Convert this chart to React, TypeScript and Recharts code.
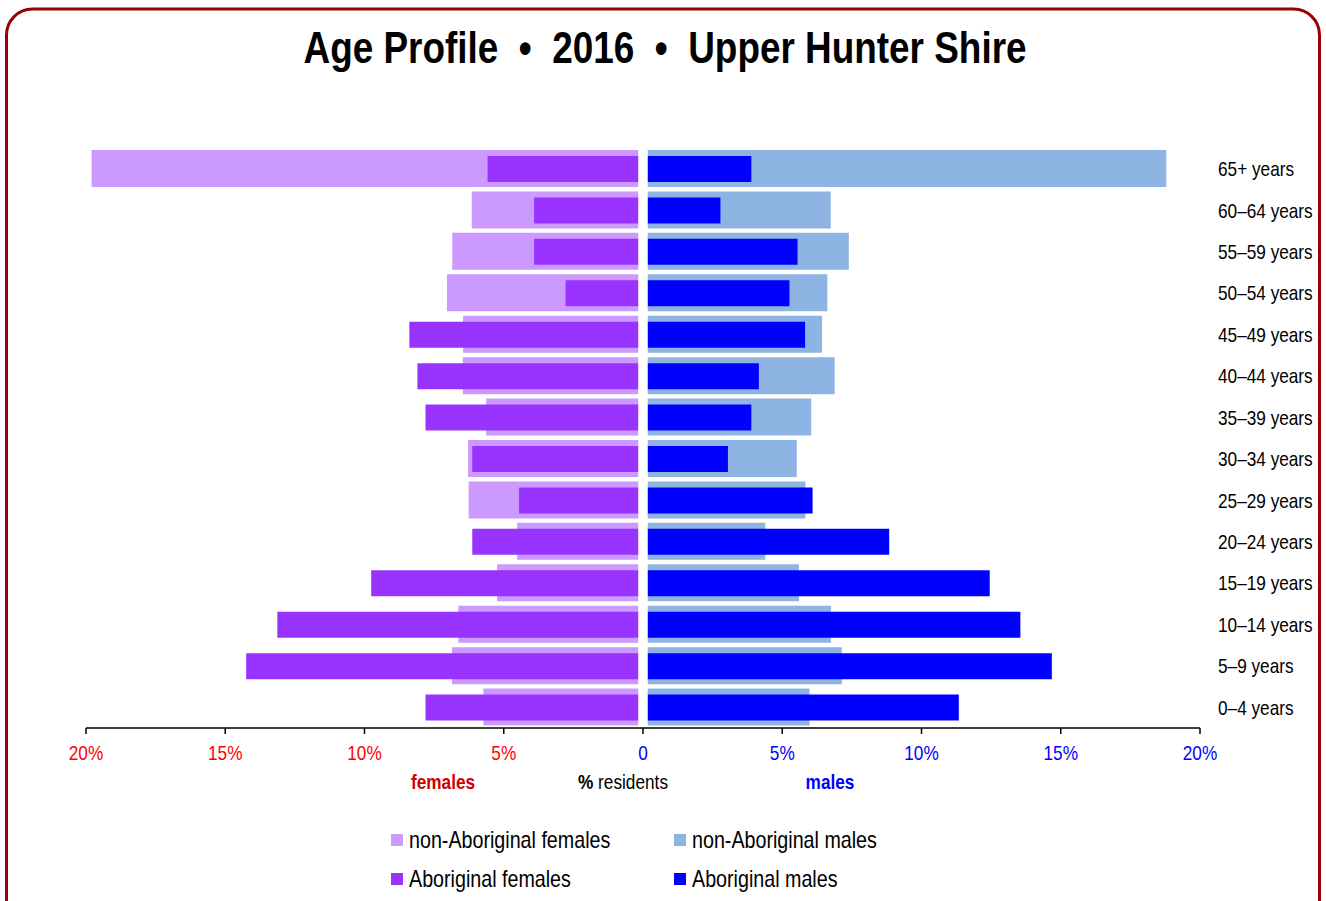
import React from 'react';
import { BarChart, Bar, XAxis, YAxis, ReferenceLine } from 'recharts';

const ages = ['65+ years', '60–64 years', '55–59 years', '50–54 years', '45–49 years', '40–44 years', '35–39 years', '30–34 years', '25–29 years', '20–24 years', '15–19 years', '10–14 years', '5–9 years', '0–4 years'];
const nonAbFemales = [19.8, 6.15, 6.85, 7.04, 6.46, 6.47, 5.63, 6.28, 6.26, 4.52, 5.24, 6.63, 6.86, 5.73];
const abFemales = [5.58, 3.91, 3.91, 2.78, 8.39, 8.1, 7.81, 6.13, 4.45, 6.13, 9.76, 13.13, 14.25, 7.81];
const nonAbMales = [18.79, 6.74, 7.39, 6.62, 6.43, 6.88, 6.04, 5.52, 5.83, 4.39, 5.6, 6.75, 7.14, 5.98];
const abMales = [3.89, 2.78, 5.55, 5.26, 5.82, 4.16, 3.89, 3.05, 6.09, 8.84, 12.45, 13.55, 14.68, 11.34];
const xTicks = [-20, -15, -10, -5, 0, 5, 10, 15, 20];

const data = ages.map((age, i) => ({
  age,
  nonF: -nonAbFemales[i],
  nonM: nonAbMales[i],
  abF: -abFemales[i],
  abM: abMales[i],
}));

// no Arial Narrow here, so squeeze Liberation Sans horizontally
const FONT = "'Liberation Sans', Arial, sans-serif";
const SQ = 0.82;

const legendItems = [
  { label: 'non-Aboriginal females', color: '#CC99FF', x: 391, y: 840 },
  { label: 'non-Aboriginal males', color: '#8DB4E2', x: 674, y: 840 },
  { label: 'Aboriginal females', color: '#9933FF', x: 391, y: 879 },
  { label: 'Aboriginal males', color: '#0000FF', x: 674, y: 879 },
];

function XTick(props: any) {
  const { x, y, payload } = props;
  const v = payload.value;
  const color = v < 0 ? '#FF0000' : '#0000FF';
  const text = v === 0 ? '0' : Math.abs(v) + '%';
  return (
    <text transform={`translate(${x},${y}) scale(${SQ},1)`} dy="0.71em" textAnchor="middle" fill={color} fontSize={21} fontFamily={FONT}>
      {text}
    </text>
  );
}

function AgeTick(props: any) {
  const { x, y, payload } = props;
  return (
    <text transform={`translate(${x},${y}) scale(${SQ},1)`} dy="0.355em" textAnchor="start" fill="#000" fontSize={21} fontFamily={FONT}>
      {payload.value}
    </text>
  );
}

export default function App() {
  return (
    <div style={{ position: 'fixed', left: 0, top: 0, width: 1326, height: 901, overflow: 'hidden', background: '#fff' }}>
      <div style={{ position: 'absolute', left: 0, top: 22, width: 1330, textAlign: 'center', fontFamily: FONT, fontWeight: 'bold', fontSize: 45, whiteSpace: 'pre', transform: `scaleX(${SQ})` }}>
        {'Age Profile  •  2016  •  Upper Hunter Shire'}
      </div>
      <div style={{ position: 'absolute', top: 0, left: 0 }}>
        <BarChart
          width={1326}
          height={901}
          data={data}
          layout="vertical"
          stackOffset="sign"
          margin={{ top: 148, right: 0, bottom: 133, left: 86 }}
        >
          <XAxis
            type="number"
            domain={[-20, 20]}
            ticks={xTicks}
            height={40}
            stroke="#000"
            strokeWidth={1.5}
            tickSize={6}
            tickMargin={11}
            tick={<XTick />}
            interval={0}
          />
          <YAxis
            yAxisId="n"
            type="category"
            dataKey="age"
            orientation="right"
            width={126}
            axisLine={false}
            tickLine={false}
            tickSize={0}
            tickMargin={18}
            interval={0}
            tick={<AgeTick />}
          />
          <YAxis yAxisId="a" type="category" dataKey="age" hide />
          <Bar yAxisId="n" dataKey="nonF" stackId="n" fill="#CC99FF" barSize={37} isAnimationActive={false} />
          <Bar yAxisId="n" dataKey="nonM" stackId="n" fill="#8DB4E2" barSize={37} isAnimationActive={false} />
          <Bar yAxisId="a" dataKey="abF" stackId="a" fill="#9933FF" barSize={26} isAnimationActive={false} />
          <Bar yAxisId="a" dataKey="abM" stackId="a" fill="#0000FF" barSize={26} isAnimationActive={false} />
          <ReferenceLine yAxisId="n" x={0} stroke="#fff" strokeWidth={9.5} />
        </BarChart>
      </div>
      <div style={{ position: 'absolute', top: 770, left: 0, width: 1326, height: 26, fontFamily: FONT, fontSize: 21 }}>
        <span style={{ position: 'absolute', left: 443, transform: `translateX(-50%) scaleX(${SQ})`, color: '#D00000', fontWeight: 'bold' }}>females</span>
        <span style={{ position: 'absolute', left: 623, transform: `translateX(-50%) scaleX(${SQ})`, color: '#000', whiteSpace: 'pre' }}>
          <b>%</b> residents
        </span>
        <span style={{ position: 'absolute', left: 830, transform: `translateX(-50%) scaleX(${SQ})`, color: '#0000FF', fontWeight: 'bold' }}>males</span>
      </div>
      {legendItems.map((it) => (
        <div key={it.label} style={{ position: 'absolute', left: it.x, top: it.y - 15, height: 30, display: 'flex', alignItems: 'center', fontFamily: FONT, fontSize: 24 }}>
          <span style={{ width: 12, height: 12, background: it.color, display: 'inline-block', marginRight: 6 }} />
          <span style={{ display: 'inline-block', transform: `scaleX(${SQ})`, transformOrigin: 'left center', whiteSpace: 'pre' }}>{it.label}</span>
        </div>
      ))}
      <svg width={1326} height={901} style={{ position: 'absolute', left: 0, top: 0, zIndex: 5, pointerEvents: 'none' }}>
        <path d="M 6.5 960 L 6.5 35 A 26 26 0 0 1 32.5 9 L 1293.5 9 A 26 26 0 0 1 1319.5 35 L 1319.5 960" fill="none" stroke="#990000" strokeWidth={3} />
      </svg>
    </div>
  );
}
